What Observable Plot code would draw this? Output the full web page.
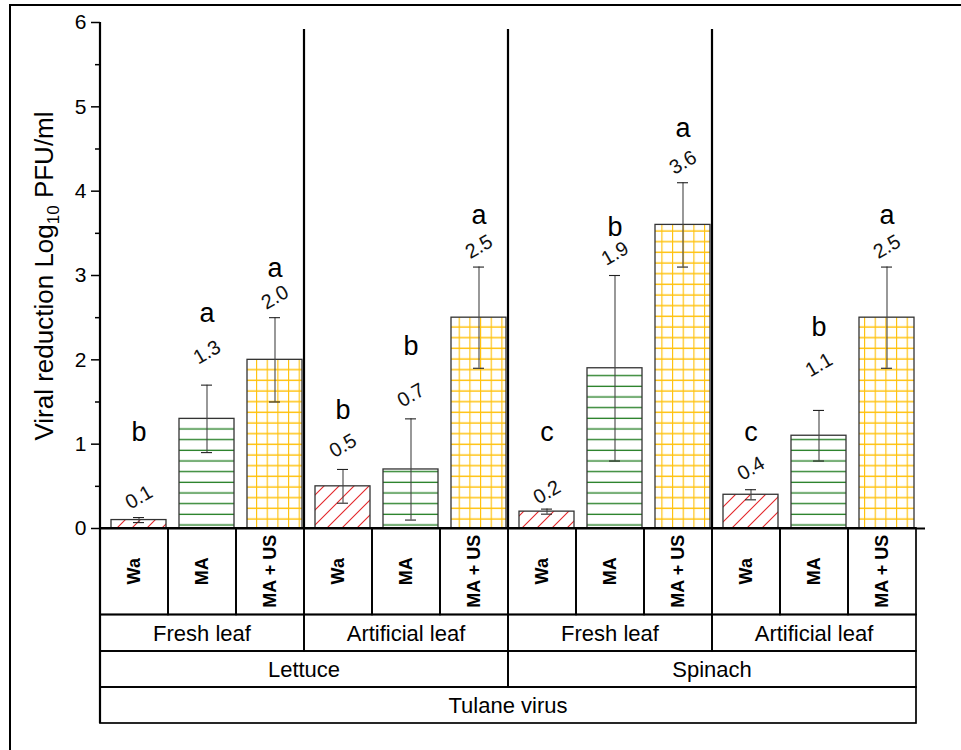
<!DOCTYPE html>
<html><head><meta charset="utf-8">
<script src="https://cdn.jsdelivr.net/npm/d3@7"></script>
<script src="https://cdn.jsdelivr.net/npm/@observablehq/plot@0.6"></script>
<style>
html,body{margin:0;padding:0;background:#fff;}
#chart{position:relative;width:961px;height:750px;overflow:hidden;background:#fff;}
#frame{position:absolute;left:9px;top:4px;width:1000px;height:800px;border-top:2px solid #000;border-left:2px solid #000;pointer-events:none;}
#chart svg{position:absolute;left:0;top:0;}
</style></head><body><div id="chart"><div id="frame"></div></div>
<script>
// ---- data ----
const virus = "Tulane virus";
const produce = ["Lettuce", "Spinach"];
const surfaces = ["Fresh leaf", "Artificial leaf"];
const treatments = ["Wa", "MA", "MA + US"];
const means  = [0.1, 1.3, 2.0,  0.5, 0.7, 2.5,  0.2, 1.9, 3.6,  0.4, 1.1, 2.5];
const errors = [0.03, 0.4, 0.5, 0.2, 0.6, 0.6,  0.03, 1.1, 0.5, 0.06, 0.3, 0.6];
const letters = ["b", "a", "a", "b", "b", "a", "c", "b", "a", "c", "b", "a"];
// anchor heights (data units) of the annotations
const valueLabelY = [0.37, 2.09, 2.74, 0.98, 1.58, 3.34, 0.43, 3.26, 4.34, 0.71, 1.94, 3.34];
const letterY     = [1.14, 2.55, 3.08, 1.40, 2.16, 3.71, 1.14, 3.57, 4.74, 1.14, 2.38, 3.71];
const yTicks = [0, 1, 2, 3, 4, 5, 6];
const yMinorTicks = [0.5, 1.5, 2.5, 3.5, 4.5, 5.5];
const yTitle = ["Viral reduction Log", "10", " PFU/ml"];

const rows = [];
let k = 0;
for (const p of produce) for (const s of surfaces) for (const t of treatments) {
  rows.push({id: `${p}|${s}|${t}`, produce: p, surface: s, treatment: t,
    mean: means[k], err: errors[k], letter: letters[k], labelY: valueLabelY[k], letterY: letterY[k]});
  k++;
}
const patternOf = {"Wa": "url(#pat-wa)", "MA": "url(#pat-ma)", "MA + US": "url(#pat-mus)"};
const FONT = "Arial, 'Liberation Sans', sans-serif";

const plot = Plot.plot({
  width: 961, height: 750,
  marginLeft: 100, marginRight: 36, marginTop: 22, marginBottom: 222,
  style: {fontFamily: FONT, background: "transparent", color: "#000", overflow: "visible"},
  x: {domain: rows.map(d => d.id), paddingInner: 0.19, paddingOuter: 0.095, axis: null},
  y: {domain: [0, 6], axis: null},
  marks: [
    ...treatments.map(t => Plot.barY(rows.filter(d => d.treatment === t), {
      x: "id", y: "mean", fill: patternOf[t], stroke: "#333", strokeWidth: 1.3
    })),
    Plot.ruleX(rows, {x: "id", y1: d => d.mean - d.err, y2: d => d.mean + d.err, stroke: "#444", strokeWidth: 1.1}),
    Plot.tickY(rows, {x: "id", y: d => d.mean + d.err, stroke: "#222", strokeWidth: 1.1, insetLeft: 22, insetRight: 22}),
    Plot.tickY(rows, {x: "id", y: d => d.mean - d.err, stroke: "#222", strokeWidth: 1.1, insetLeft: 22, insetRight: 22}),
    Plot.text(rows, {x: "id", y: "labelY", text: d => d.mean.toFixed(1), rotate: -30, fontSize: 20, fill: "#111"}),
    Plot.text(rows, {x: "id", y: "letterY", text: "letter", fontSize: 27, fill: "#000"}),
    Plot.axisY({ticks: yTicks, tickFormat: d => String(d), tickSize: 9, tickPadding: 5, fontSize: 21, label: null, strokeWidth: 1.5}),
    Plot.axisY({ticks: yMinorTicks, tickSize: 5, text: null, label: null, strokeWidth: 1.5}),
    Plot.ruleY([0], {stroke: "#000", strokeWidth: 2.2})
  ]
});

const svg = d3.select(plot);
// patterns
const defs = svg.insert("defs", ":first-child");
const pw = defs.append("pattern").attr("id", "pat-wa").attr("patternUnits", "userSpaceOnUse").attr("width", 15).attr("height", 15);
pw.append("rect").attr("width", 15).attr("height", 15).attr("fill", "#fff");
pw.append("path").attr("d", "M-2,2L2,-2M0,15L15,0M13,17L17,13").attr("stroke", "#e3262a").attr("stroke-width", 1.1);
const s = 32 / 3;
const pm = defs.append("pattern").attr("id", "pat-ma").attr("patternUnits", "userSpaceOnUse").attr("width", s).attr("height", s);
pm.append("rect").attr("width", s).attr("height", s).attr("fill", "#fff");
pm.append("line").attr("x1", 0).attr("x2", s).attr("y1", 2.3).attr("y2", 2.3).attr("stroke", "#1d7a1d").attr("stroke-width", 1.3);
const pu = defs.append("pattern").attr("id", "pat-mus").attr("patternUnits", "userSpaceOnUse").attr("width", s).attr("height", s);
pu.append("rect").attr("width", s).attr("height", s).attr("fill", "#fff");
pu.append("path").attr("d", `M0,7H${s}M0.5,0V${s}`).attr("stroke", "#ffc20e").attr("stroke-width", 1.3);

const xs = plot.scale("x"), ys = plot.scale("y");
const x0 = xs.range[0], step = xs.step;
const colLeft = j => x0 + j * step;
const yTop = ys.apply(6), yBase = ys.apply(0);
const rowH = [86.5, 36.5, 36, 36];
const rowY = [yBase]; rowH.forEach((h, i) => rowY.push(rowY[i] + h));

const g = svg.append("g").attr("font-family", FONT).attr("fill", "#000");
// group separators in the plot area
for (let j = 3; j < rows.length; j += 3) {
  g.append("line").attr("x1", colLeft(j)).attr("x2", colLeft(j)).attr("y1", yTop + 7).attr("y2", yBase)
    .attr("stroke", "#000").attr("stroke-width", 2.2);
}
// table
function spans(key) {
  const out = [];
  rows.forEach((d, j) => {
    const v = key(d);
    const last = out[out.length - 1];
    if (last && last.key === v) last.end = j + 1; else out.push({key: v, label: v.split("|").pop(), start: j, end: j + 1});
  });
  return out;
}
const levels = [
  spans(d => d.id),
  spans(d => `${d.produce}|${d.surface}`),
  spans(d => d.produce),
  spans(() => virus)
];
levels.forEach((sp, r) => {
  sp.forEach(c => {
    const xa = colLeft(c.start), xb = colLeft(c.end);
    g.append("rect").attr("x", xa).attr("y", rowY[r]).attr("width", xb - xa).attr("height", rowH[r])
      .attr("fill", "none").attr("stroke", "#000").attr("stroke-width", 1.7);
    const cx = (xa + xb) / 2, cy = rowY[r] + rowH[r] / 2;
    if (r === 0) {
      g.append("text").attr("transform", `translate(${cx + 6},${cy}) rotate(-90)`)
        .attr("text-anchor", "middle").attr("font-size", 18).attr("font-weight", "bold").text(c.label);
    } else {
      g.append("text").attr("x", cx).attr("y", cy + 8).attr("text-anchor", "middle").attr("font-size", 22).text(c.label);
    }
  });
});
// left axis line continues through the table
g.append("line").attr("x1", x0).attr("x2", x0).attr("y1", yTop).attr("y2", rowY[4]).attr("stroke", "#000").attr("stroke-width", 2.2);
g.append("line").attr("x1", x0).attr("x2", colLeft(rows.length)).attr("y1", yBase).attr("y2", yBase).attr("stroke", "#000").attr("stroke-width", 2.2);
// y title with subscript
const t = g.append("text").attr("transform", `translate(53,${(yTop + yBase) / 2 + 1}) rotate(-90)`)
  .attr("text-anchor", "middle").attr("font-size", 26);
t.append("tspan").text(yTitle[0]);
t.append("tspan").attr("font-size", 17).attr("dy", 6).text(yTitle[1]);
t.append("tspan").attr("dy", -6).text(yTitle[2]);

document.getElementById("chart").appendChild(plot);
</script></body></html>
